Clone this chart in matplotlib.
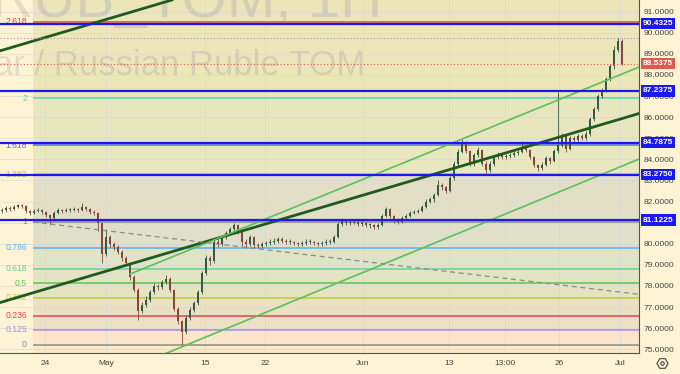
import matplotlib.pyplot as plt
from matplotlib.lines import Line2D
from matplotlib.transforms import blended_transform_factory

plt.rcParams['font.family'] = ['Liberation Sans', 'DejaVu Sans']

# candles, one per ~2.5 trading hours
first_open = 81.55
close = [81.6, 81.7, 81.65, 81.75, 81.85, 81.8, 81.55, 81.45, 81.55, 81.6,
         81.5, 81.35, 81.2, 81.45, 81.6, 81.55, 81.6, 81.6, 81.65, 81.6,
         81.75, 81.65, 81.5, 81.45, 81.0, 79.5, 80.3, 80.0, 79.85, 79.6,
         79.3, 79.1, 78.4, 77.8, 76.8, 77.1, 77.35, 77.7, 78.0, 77.95,
         78.2, 78.35, 77.8, 76.9, 76.35, 75.8, 76.5, 76.85, 77.2, 77.7,
         78.6, 79.3, 79.2, 80.1, 80.0, 80.3, 80.5, 80.7, 80.9, 80.55,
         80.1, 80.0, 80.3, 79.95, 79.9, 80.0, 80.05, 80.1, 80.15, 80.2,
         80.15, 80.1, 80.1, 80.05, 80.0, 80.05, 80.1, 80.1, 80.05, 80.0,
         80.05, 80.1, 80.1, 80.3, 80.95, 81.1, 81.0, 81.0, 81.05, 80.95,
         81.0, 80.9, 80.9, 80.8, 80.9, 81.3, 81.65, 81.3, 81.15, 81.05,
         81.2, 81.3, 81.45, 81.5, 81.55, 81.75, 82.0, 82.1, 82.3, 82.8,
         82.7, 82.5, 83.1, 83.8, 84.35, 84.8, 84.4, 83.8, 84.2, 84.45,
         83.8, 83.5, 83.8, 84.1, 84.25, 84.1, 84.15, 84.2, 84.3, 84.35,
         84.6, 84.45, 84.1, 83.75, 83.6, 83.75, 84.05, 83.9, 84.4, 84.7,
         85.1, 84.5, 85.0, 84.9, 85.1, 85.0, 85.2, 85.9, 86.4, 87.0,
         87.3, 87.8, 88.4, 89.2, 89.6, 88.5375]
high = [81.7, 81.8, 81.8, 81.85, 81.9, 81.9, 81.85, 81.6, 81.65, 81.7,
        81.65, 81.55, 81.4, 81.55, 81.7, 81.65, 81.7, 81.7, 81.75, 81.7,
        81.95, 81.8, 81.7, 81.6, 81.5, 81.0, 80.7, 80.4, 80.1, 79.95,
        79.7, 79.4, 79.15, 78.5, 77.9, 77.25, 77.5, 77.8, 78.15, 78.1,
        78.3, 78.5, 78.4, 77.85, 77.0, 76.4, 76.6, 77.0, 77.3, 77.8,
        78.7, 79.45, 79.4, 80.2, 80.25, 80.4, 80.6, 80.8, 81.0, 80.95,
        80.6, 80.2, 80.4, 80.35, 80.05, 80.1, 80.15, 80.2, 80.25, 80.3,
        80.3, 80.2, 80.2, 80.15, 80.1, 80.15, 80.2, 80.2, 80.15, 80.1,
        80.15, 80.2, 80.2, 80.4, 81.05, 81.2, 81.15, 81.1, 81.15, 81.1,
        81.1, 81.05, 81.0, 80.95, 81.0, 81.4, 81.75, 81.7, 81.35, 81.2,
        81.3, 81.4, 81.55, 81.6, 81.65, 81.85, 82.1, 82.2, 82.4, 83.0,
        82.9, 82.75, 83.2, 83.9, 84.5, 84.95, 84.85, 84.45, 84.3, 84.6,
        84.5, 83.9, 83.9, 84.2, 84.35, 84.3, 84.25, 84.3, 84.4, 84.45,
        84.85, 84.7, 84.5, 84.15, 83.8, 83.85, 84.15, 84.1, 84.5, 87.2,
        85.25, 85.15, 85.1, 85.1, 85.2, 85.2, 85.35, 86.0, 86.5, 87.1,
        87.4, 87.9, 88.5, 89.35, 89.75, 89.7]
low = [81.45, 81.5, 81.55, 81.6, 81.7, 81.7, 81.45, 81.35, 81.4, 81.5,
       81.4, 81.25, 80.9, 81.15, 81.4, 81.45, 81.5, 81.5, 81.55, 81.5,
       81.55, 81.55, 81.4, 81.35, 80.6, 79.08, 79.4, 79.85, 79.7, 79.5,
       79.2, 78.95, 78.3, 77.7, 76.4, 76.7, 77.0, 77.25, 77.6, 77.8,
       77.85, 78.1, 77.7, 76.8, 76.2, 75.22, 75.7, 76.4, 76.75, 77.1,
       77.6, 78.5, 79.0, 79.1, 79.85, 79.9, 80.2, 80.4, 80.6, 80.45,
       79.9, 79.8, 79.9, 79.8, 79.8, 79.8, 79.9, 79.95, 80.0, 80.05,
       80.05, 80.0, 80.0, 79.95, 79.9, 79.9, 79.95, 80.0, 79.95, 79.9,
       79.9, 79.95, 80.0, 80.05, 80.25, 80.85, 80.9, 80.9, 80.95, 80.85,
       80.85, 80.8, 80.75, 80.7, 80.7, 80.85, 81.25, 81.2, 81.0, 80.95,
       81.0, 81.15, 81.25, 81.4, 81.45, 81.5, 81.7, 81.95, 82.0, 82.25,
       82.55, 82.4, 82.45, 83.0, 83.7, 84.3, 84.3, 83.7, 83.7, 84.1,
       83.7, 83.35, 83.4, 83.7, 84.0, 84.0, 84.0, 84.05, 84.1, 84.2,
       84.3, 84.35, 84.0, 83.65, 83.45, 83.5, 83.7, 83.8, 83.85, 84.3,
       84.6, 84.35, 84.45, 84.8, 84.8, 84.9, 84.9, 85.1, 85.8, 86.3,
       86.9, 87.2, 87.7, 88.3, 89.1, 88.45]

date_pos = [10.75, 26, 50.75, 65.75, 90.25, 111.75, 125.75, 139.25, 154.5]
date_labels = ['24', 'May', '15', '22', 'Jun', '13', '13:00', '26', 'Jul']
price_ticks = list(range(75, 92))

# fibonacci retracement
fib_low = 75.20
fib_high = 81.048
fib_start = 7.75
fib_ratios = [0, 0.125, 0.236, 0.382, 0.5, 0.618, 0.786, 1, 1.382, 1.618, 2, 2.618]
fib_labels = ['0', '0.125', '0.236', '0.382', '0.5', '0.618', '0.786', '1',
              '1.382', '1.618', '2', '2.618']
fib_colors = ['#8c8c8c', '#a48fd6', '#e0474c', '#b5cf3a', '#5cc35c', '#62d2a2',
              '#5fb0e8', '#8c8c8c', '#b5cf3a', '#5b6ee1', '#62d2a2', '#e0474c']
zone_colors = ['#fde8cc', '#fbe6c9', '#eee0c6', '#ebe1c2', '#e6e4c0', '#e2e4c3',
               '#dfe3c8', '#e0dfca', '#e3dfc6', '#e8e7bf', '#e7e6be', '#ece6b9',
               '#ece5b8']

# horizontal levels and price markers
level_lines = [90.4325, 87.2375, 84.7875, 83.2750, 81.1225]
last_price = 88.5375
session_high = 89.75

# trend lines as (bar, price) pairs
main_trend = [(-0.5, 77.21), (159.25, 86.17)]
upper_trend = [(-0.5, 89.14), (159.25, 98.10)]
channel_top = [(32, 78.56), (159.25, 88.37)]
channel_bottom = [(32, 74.10), (159.25, 84.01)]
fib_trend = [(7.75, 81.03), (159.25, 77.60)]

bg = '#fef3d4'
blue = '#1a1af0'
xmin, xmax = -0.5, 159.25
ymin, ymax = 74.82, 91.55

fig = plt.figure(figsize=(6.8, 3.74), dpi=100, facecolor=bg)
ax = fig.add_axes([0, 21 / 374, 639 / 680, 353 / 374])
ax.set_facecolor(bg)
ax.set_xlim(xmin, xmax)
ax.set_ylim(ymin, ymax)

# fib zones and levels
fib_prices = [fib_low + r * (fib_high - fib_low) for r in fib_ratios]
bounds = [ymin] + fib_prices + [ymax]
frac = (fib_start - xmin) / (xmax - xmin)
for k in range(len(bounds) - 1):
    ax.axhspan(bounds[k], bounds[k + 1], xmin=frac, xmax=1, color=zone_colors[k],
               lw=0, zorder=0.2)
for p, lab, col in zip(fib_prices, fib_labels, fib_colors):
    ax.hlines(p, fib_start, xmax, color=col, lw=1.1, zorder=1)
    ax.text(6.25, p, lab, ha='right', va='center', fontsize=6.2, color=col, zorder=1)

# grid
ax.set_axisbelow(True)
ax.set_yticks(price_ticks, [f'{t:.4f}' for t in price_ticks])
ax.set_xticks(date_pos, date_labels)
ax.grid(color='#d3d6e0', lw=0.5, alpha=0.8)

# watermark
ax.text(382 / 680, 1 - 17 / 374, 'USDRUB_TOM, 1H', transform=fig.transFigure,
        ha='right', va='baseline', fontsize=42, color='#787b86', alpha=0.2, zorder=0.6)
ax.text(365 / 680, 1 - 75 / 374, 'U.S. Dollar / Russian Ruble TOM', transform=fig.transFigure,
        ha='right', va='baseline', fontsize=25, color='#787b86', alpha=0.2, zorder=0.6)

# candles
opens = [first_open] + close[:-1]
xs = list(range(len(close)))
cols = ['#3a5742' if c >= o else '#85473a' for o, c in zip(opens, close)]
bottoms = [min(o, c) for o, c in zip(opens, close)]
heights = [max(abs(c - o), 0.03) for o, c in zip(opens, close)]
ax.vlines(xs, low, high, colors=cols, lw=0.6, zorder=2)
ax.bar(xs, heights, bottom=bottoms, width=0.35, color=cols, zorder=2.1)

# trend lines
ax.axline(*main_trend, color='#1f5b1f', lw=2.0, zorder=3)
ax.axline(*upper_trend, color='#1f5b1f', lw=2.0, zorder=3)
for seg in (channel_top, channel_bottom):
    ax.plot([seg[0][0], seg[1][0]], [seg[0][1], seg[1][1]], color='#5cbf5c', lw=1.2, zorder=3)
ax.plot([fib_trend[0][0], fib_trend[1][0]], [fib_trend[0][1], fib_trend[1][1]],
        color='#8a8a8a', lw=0.9, ls=(0, (4, 3)), zorder=3)

# price lines
ax.axhline(session_high, color='#9a9a9a', lw=0.8, ls=(0, (1, 2)), zorder=3)
ax.axhline(last_price, color='#e0584f', lw=0.8, ls=(0, (1, 2)), zorder=3)
for v in level_lines:
    ax.axhline(v, color=blue, lw=1.6, zorder=4)

trans = blended_transform_factory(ax.transAxes, ax.transData)
for v in level_lines:
    ax.text(1.006, v, f'{v:.4f}', transform=trans, ha='left', va='center', fontsize=6,
            fontweight='bold', color='white', clip_on=False, zorder=6,
            bbox=dict(boxstyle='square,pad=0.25', fc=blue, ec='none'))
ax.text(1.006, last_price, f'{last_price:.4f}', transform=trans, ha='left', va='center',
        fontsize=6, fontweight='bold', color='white', clip_on=False, zorder=6,
        bbox=dict(boxstyle='square,pad=0.25', fc='#dd5a4e', ec='none'))

# axes styling
ax.yaxis.tick_right()
ax.tick_params(axis='y', length=0, pad=3, labelsize=6, labelcolor='#444444')
ax.tick_params(axis='x', length=0, pad=5, labelsize=6, labelcolor='#444444')
for s in ('top', 'left'):
    ax.spines[s].set_visible(False)
for s in ('right', 'bottom'):
    ax.spines[s].set_color('#555555')
    ax.spines[s].set_linewidth(0.8)

# settings icon in the corner
fig.add_artist(Line2D([662 / 680], [1 - 363 / 374], marker='H', markersize=8, mfc='none',
                      mec='#444444', mew=0.8, transform=fig.transFigure))
fig.add_artist(Line2D([662 / 680], [1 - 363 / 374], marker='o', markersize=2.5, mfc='none',
                      mec='#444444', mew=0.8, transform=fig.transFigure))

fig.savefig('out.png', dpi=100, facecolor=bg)
